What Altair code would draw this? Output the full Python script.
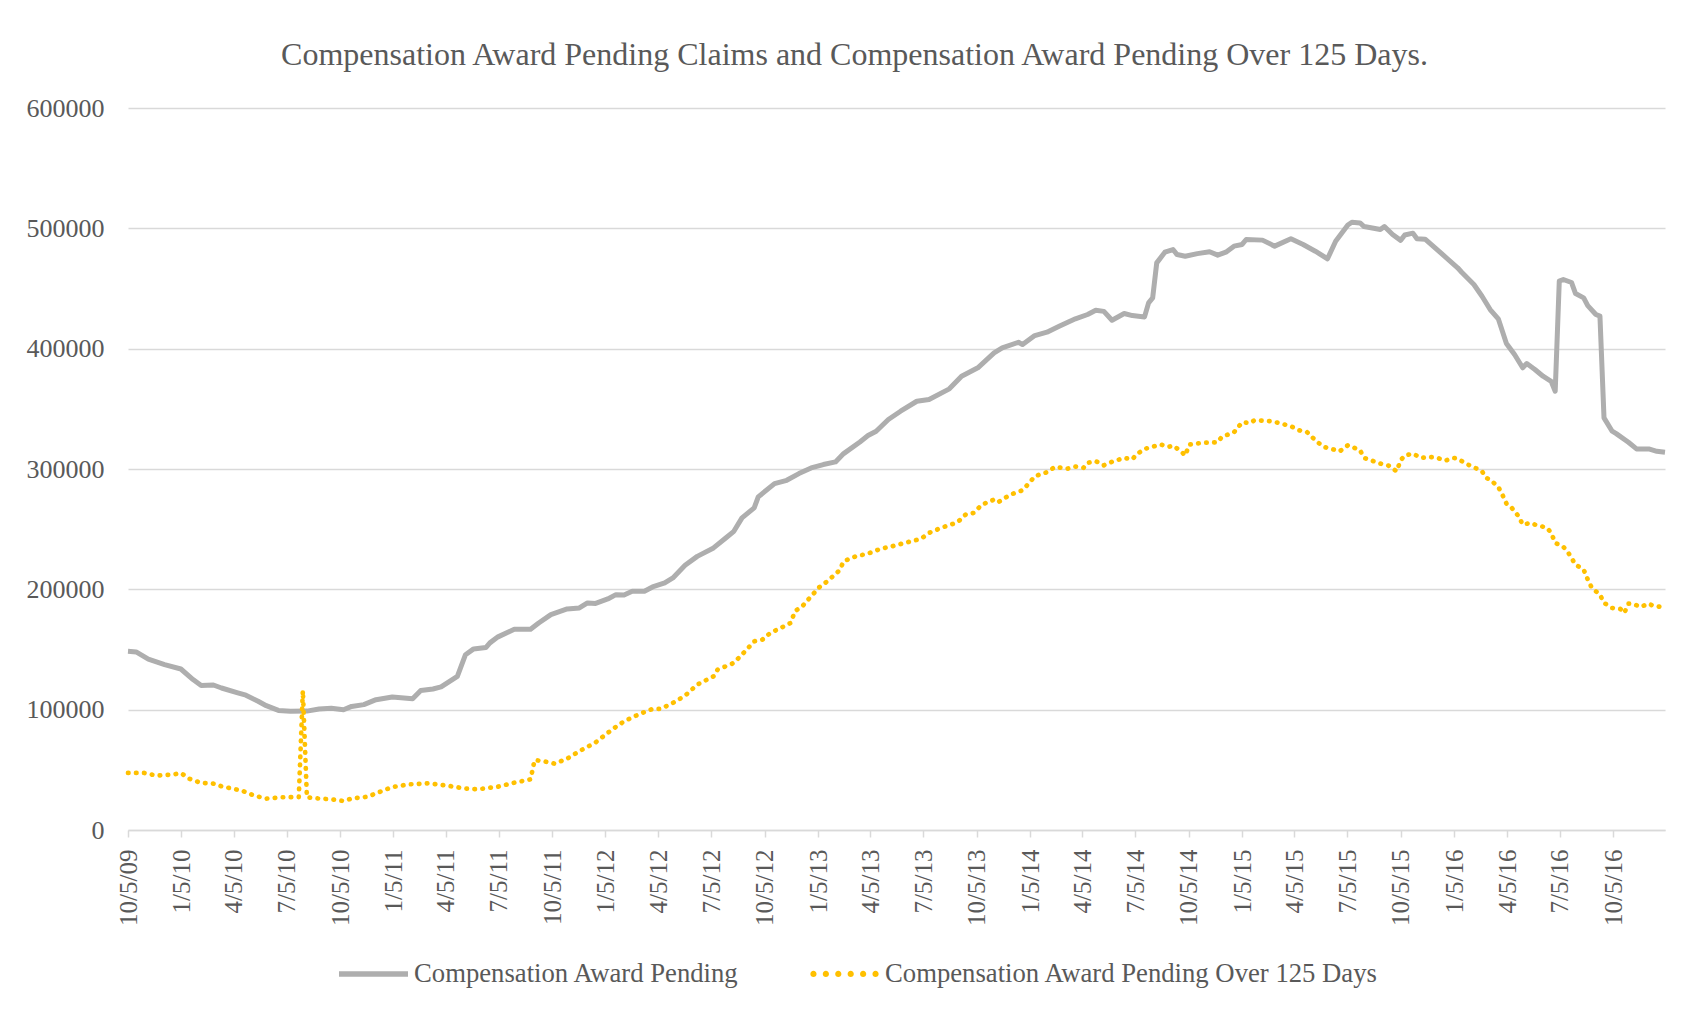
import altair as alt
import pandas as pd

START = "2009-10-05"
S1 = "Compensation Award Pending"
S2 = "Compensation Award Pending Over 125 Days"
TITLE = "Compensation Award Pending Claims and Compensation Award Pending Over 125 Days."

# weeks after 10/5/09 and values
gray_weeks = [0, 2, 5, 9, 13, 16, 18, 21, 23, 27,
              29, 32, 34, 37, 40, 44, 47, 50, 53, 55,
              58, 61, 65, 70, 72, 75, 77, 81, 83, 85,
              88, 89, 91, 95, 99, 101, 104, 108, 111, 113,
              115, 118, 120, 122, 124, 127, 129, 132, 134, 137,
              140, 144, 147, 149, 151, 154, 155, 159, 162, 165,
              168, 171, 174, 176, 180, 182, 184, 187, 190, 194,
              197, 202, 205, 209, 213, 215, 219, 220, 223, 226,
              229, 233, 236, 238, 240, 242, 245, 247, 250, 251,
              252, 253, 255, 257, 258, 260, 263, 266, 268, 270,
              272, 274, 275, 279, 282, 286, 289, 292, 295, 297,
              300, 301, 303, 304, 308, 309, 311, 313, 314, 316,
              317, 319, 323, 327, 328, 331, 333, 335, 337, 339,
              341, 343, 344, 346, 348, 350, 351, 352, 353, 355,
              356, 358, 359, 361, 362, 363, 365, 366, 369, 371,
              374, 376, 378]
gray_values = [148500, 148000, 142000, 137500, 133800, 125000, 120000, 120500, 118000, 114000,
               112000, 107000, 103300, 99400, 98600, 98800, 100600, 101100, 99900, 102700,
               104200, 108300, 110600, 109100, 116000, 117200, 118900, 127700, 145700, 150500,
               151600, 155500, 160500, 166800, 166800, 172000, 179000, 183700, 184500, 188700,
               188300, 192000, 195600, 195300, 198400, 198400, 202000, 205300, 209500, 220000,
               227400, 234400, 242700, 248200, 259400, 267700, 276800, 287900, 290600, 296200,
               300900, 303700, 305900, 312800, 322500, 327800, 331400, 341100, 348000, 356300,
               357700, 366600, 377100, 384100, 396500, 400700, 405300, 403400, 410900, 413700,
               418600, 424800, 428400, 431900, 431000, 423600, 429200, 427500, 426400, 438100,
               442200, 471300, 480200, 482400, 478200, 476800, 479000, 480500, 477700, 480200,
               485200, 486600, 490700, 490200, 485200, 491300, 486600, 481000, 474700, 489300,
               502800, 505100, 504500, 501500, 499000, 501500, 494900, 490000, 494500, 496000,
               491300, 491000, 479100, 467200, 463500, 453300, 443600, 432500, 424800, 404300,
               395100, 384100, 387600, 382700, 377100, 372900, 364600, 456100, 457500, 455000,
               445800, 442200, 435800, 428400, 427000, 342500, 331400, 329400, 322200, 316700,
               316700, 314700, 313900]

yellow_weeks = [0, 4, 7, 11, 13, 15, 18, 21, 23, 28,
                31, 34, 38, 42, 43, 44, 47, 50, 53, 55,
                59, 61, 65, 69, 74, 79, 83, 86, 91, 95,
                99, 100, 102, 105, 108, 111, 114, 115, 119, 122,
                126, 129, 131, 134, 137, 140, 144, 145, 149, 152,
                154, 156, 158, 161, 163, 164, 166, 168, 170, 172,
                175, 176, 179, 182, 185, 188, 191, 195, 197, 200,
                204, 206, 208, 210, 213, 214, 217, 220, 222, 223,
                226, 228, 231, 233, 235, 236, 238, 240, 242, 245,
                247, 248, 250, 254, 256, 257, 259, 260, 261, 264,
                268, 269, 272, 274, 276, 277, 281, 283, 286, 288,
                290, 292, 294, 296, 298, 300, 303, 304, 308, 310,
                312, 313, 314, 316, 318, 320, 322, 324, 326, 327,
                329, 331, 333, 334, 335, 337, 338, 339, 340, 342,
                343, 345, 346, 349, 350, 351, 353, 354, 356, 358,
                359, 360, 362, 363, 365, 367, 368, 369, 370, 372,
                374, 375, 377]
yellow_values = [47400, 47400, 45200, 46000, 47400, 42700, 39100, 38500, 36300, 32700,
                 28600, 26100, 27200, 27400, 115800, 27100, 26100, 25500, 24100, 26100,
                 27700, 30500, 35700, 37900, 38800, 36600, 34400, 33800, 36000, 39300,
                 42100, 58100, 57300, 55100, 59300, 65500, 70900, 72800, 83400, 90300,
                 96700, 100600, 100600, 105600, 111600, 120800, 127700, 133300, 138800, 149300,
                 156800, 158200, 163800, 168700, 172100, 181700, 186500, 194200, 201700, 206700,
                 215800, 223300, 227400, 229700, 233600, 235800, 238600, 241900, 246900, 251100,
                 255700, 262100, 263500, 270400, 274600, 272400, 278700, 282300, 289800, 294000,
                 297300, 301800, 300200, 302000, 301000, 305100, 306500, 303100, 306000, 309200,
                 308000, 312000, 316700, 320300, 318500, 319400, 314700, 311200, 320300, 321700,
                 322200, 326700, 330500, 338800, 338300, 340500, 339700, 338300, 335500, 332200,
                 330500, 323900, 318400, 316700, 314700, 319700, 315600, 309200, 304500, 302800,
                 298100, 307300, 311200, 312800, 309200, 310100, 309200, 307000, 309200, 308700,
                 304500, 301400, 298100, 292600, 291200, 285100, 278700, 271300, 269000, 260700,
                 253800, 255200, 253800, 251100, 246900, 238600, 235300, 231600, 220500, 216400,
                 208100, 201200, 195600, 188700, 184500, 183700, 180400, 188100, 188100, 185400,
                 188100, 186400, 185400]

tick_dates = ["2009-10-05", "2010-01-05", "2010-04-05", "2010-07-05",
              "2010-10-05", "2011-01-05", "2011-04-05", "2011-07-05",
              "2011-10-05", "2012-01-05", "2012-04-05", "2012-07-05",
              "2012-10-05", "2013-01-05", "2013-04-05", "2013-07-05",
              "2013-10-05", "2014-01-05", "2014-04-05", "2014-07-05",
              "2014-10-05", "2015-01-05", "2015-04-05", "2015-07-05",
              "2015-10-05", "2016-01-05", "2016-04-05", "2016-07-05",
              "2016-10-05"]
y_ticks = [0, 100000, 200000, 300000, 400000, 500000, 600000]

start = pd.Timestamp(START)


def to_ms(ts):
    return int(pd.Timestamp(ts).value // 1_000_000)


rows = []
for w, v in zip(gray_weeks, gray_values):
    rows.append({"date": (start + pd.Timedelta(weeks=w)).strftime("%Y-%m-%d"), "value": v, "series": S1})
for w, v in zip(yellow_weeks, yellow_values):
    rows.append({"date": (start + pd.Timedelta(weeks=w)).strftime("%Y-%m-%d"), "value": v, "series": S2})
df = pd.DataFrame(rows)

x_dom = [to_ms(start), to_ms(start + pd.Timedelta(weeks=max(gray_weeks)))]
x_vals = [to_ms(d) for d in tick_dates]

FONT = "Liberation Serif"
TXT = "#595959"
GRAY = "#AEAEAE"
GOLD = "#FFC000"

base = alt.Chart(df).encode(
    x=alt.X("date:T",
            scale=alt.Scale(type="utc", domain=x_dom),
            axis=alt.Axis(values=x_vals,
                          labelExpr="utcFormat(datum.value, '%-m/%-d/%y')",
                          labelAngle=270, labelAlign="right", labelBaseline="middle",
                          labelFont=FONT, labelFontSize=25, labelColor=TXT,
                          labelPadding=12, labelOverlap=False, labelFlush=False,
                          domainColor="#D9D9D9", domainWidth=1.5,
                          tickColor="#D9D9D9", tickWidth=1.5, tickSize=7,
                          grid=False, title=None)),
    y=alt.Y("value:Q",
            scale=alt.Scale(domain=[0, 600000], nice=False),
            axis=alt.Axis(values=y_ticks, format="d",
                          labelFont=FONT, labelFontSize=26, labelColor=TXT,
                          labelPadding=24, domain=False, ticks=False,
                          grid=True, gridColor="#D9D9D9", gridWidth=1.5,
                          title=None)),
)

gray_line = base.transform_filter(alt.datum.series == S1).mark_line(
    color=GRAY, strokeWidth=5, strokeJoin="round")
gold_line = base.transform_filter(alt.datum.series == S2).mark_line(
    color=GOLD, strokeWidth=4.7, strokeDash=[0.5, 7.5], strokeCap="round", strokeJoin="round")

BAR = "M-1,-0.08H1V0.08H-1Z"
DOTS = " ".join(
    f"M{c - 0.09:.2f},0a0.09,0.09 0 1,0 0.18,0a0.09,0.09 0 1,0 -0.18,0Z"
    for c in [-0.9, -0.54, -0.18, 0.18, 0.54, 0.9])


def make_legend():
    return alt.Legend(orient="none", legendX=211, legendY=831,
                      direction="horizontal", title=None,
                      labelFont=FONT, labelFontSize=26.7, labelColor=TXT,
                      labelLimit=0, symbolSize=4761, symbolStrokeWidth=0,
                      symbolOpacity=1, columnPadding=70, labelOffset=6,
                      padding=0)


legend_layer = base.mark_point(filled=True, opacity=0).encode(
    color=alt.Color("series:N", scale=alt.Scale(domain=[S1, S2], range=[GRAY, GOLD]),
                    legend=make_legend()),
    shape=alt.Shape("series:N", scale=alt.Scale(domain=[S1, S2], range=[BAR, DOTS]),
                    legend=make_legend()),
)

chart = alt.layer(gray_line, gold_line, legend_layer).properties(
    width=1537, height=722,
    title=alt.TitleParams(TITLE, font=FONT, fontSize=32, fontWeight="normal", color=TXT,
                          anchor="middle", dx=-42, offset=23),
    padding={"left": 120, "top": 100, "right": 24, "bottom": 180},
    autosize=alt.AutoSizeParams(type="none"),
).configure(background="white").configure_view(stroke=None)

chart.save("out.html", embed_options={"renderer": "svg", "actions": False})
